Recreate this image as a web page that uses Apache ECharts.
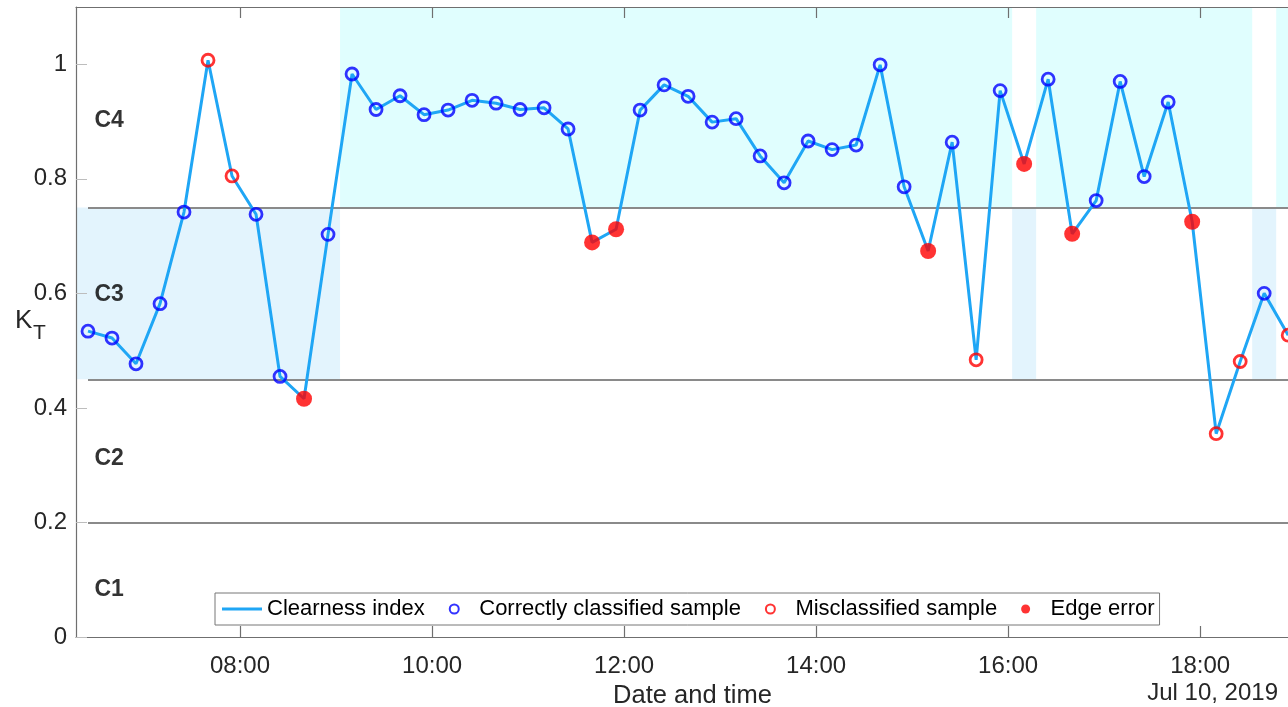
<!DOCTYPE html>
<html><head><meta charset="utf-8">
<script src="https://cdn.jsdelivr.net/npm/echarts@6/dist/echarts.min.js"></script>
<style>html,body{margin:0;padding:0;background:#fff}#c{width:1288px;height:707px}</style>
</head><body><div id="c"></div>
<script>
// ---- data ----
const sampleTimes = ['06:25','06:40','06:55','07:10','07:25','07:40','07:55','08:10','08:25','08:40','08:55',
  '09:10','09:25','09:40','09:55','10:10','10:25','10:40','10:55','11:10','11:25','11:40','11:55',
  '12:10','12:25','12:40','12:55','13:10','13:25','13:40','13:55','14:10','14:25','14:40','14:55',
  '15:10','15:25','15:40','15:55','16:10','16:25','16:40','16:55','17:10','17:25','17:40','17:55',
  '18:10','18:25','18:40','18:55'];
const clearnessIndex = [0.534,0.522,0.477,0.582,0.742,1.007,0.805,0.738,0.455,0.416,0.703,
  0.983,0.921,0.945,0.912,0.920,0.937,0.932,0.921,0.924,0.887,0.689,0.712,
  0.920,0.964,0.944,0.899,0.905,0.840,0.793,0.866,0.851,0.859,0.999,0.786,
  0.674,0.864,0.484,0.954,0.826,0.974,0.704,0.762,0.970,0.804,0.934,0.725,
  0.355,0.481,0.600,0.527];
const sampleStatus = ['ok','ok','ok','ok','ok','mis','mis','ok','ok','edge','ok',
  'ok','ok','ok','ok','ok','ok','ok','ok','ok','ok','edge','edge',
  'ok','ok','ok','ok','ok','ok','ok','ok','ok','ok','ok','ok',
  'edge','ok','mis','ok','edge','ok','edge','ok','ok','ok','ok','edge',
  'mis','mis','ok','mis'];
// predicted class shading windows
const regionStart = ['06:17:30','09:02:30','16:02:30','16:17:30','18:32:30','18:47:30'];
const regionEnd   = ['09:02:30','16:02:30','16:17:30','18:32:30','18:47:30','19:08:00'];
const regionClass = ['C3','C4','C3','C4','C3','C4'];
const classNames = ['C1','C2','C3','C4'];
const classLower = [0, 0.2, 0.45, 0.75];
const classUpper = [0.2, 0.45, 0.75, 1.1];
const classLabelY = [0.083, 0.311, 0.597, 0.902];
const classLabelTime = '06:29';
const classBoundaries = [0.2, 0.45, 0.75];
const xTickLabels = ['08:00','10:00','12:00','14:00','16:00','18:00'];
const yTickValues = [0, 0.2, 0.4, 0.6, 0.8, 1];
const yTickLabels = ['0','0.2','0.4','0.6','0.8','1'];
const axisStart = '06:17:30', axisEnd = '19:08:00';
const dateLabel = 'Jul 10, 2019';

// ---- helpers ----
function toMin(s){ const p = s.split(':').map(Number); return p[0]*60 + p[1] + (p[2]||0)/60; }
function fmt(m){ const h = Math.floor(m/60), mm = Math.round(m - h*60); return String(h).padStart(2,'0')+':'+String(mm).padStart(2,'0'); }
const xMin = toMin(axisStart), xMax = toMin(axisEnd);
const xTicks = xTickLabels.map(toMin);
const pts = sampleTimes.map((t,i)=>[toMin(t), clearnessIndex[i]]);
const pick = st => pts.filter((p,i)=>sampleStatus[i]===st);

const FONT = 'Liberation Sans, Arial, sans-serif';
const AX = '#6f6f6f', TXT = '#262626';
const shade = {C3:'#e3f4fd', C4:'#e0fefe'};
const LINEC = '#1fa6f5';

const areas = regionStart.map((s,i)=>{
  const c = classNames.indexOf(regionClass[i]);
  return [{xAxis: toMin(s), yAxis: classLower[c], itemStyle:{color: shade[regionClass[i]]}},
          {xAxis: toMin(regionEnd[i]), yAxis: classUpper[c]}];
});
const lines = classBoundaries.map(v=>[{coord:[toMin(sampleTimes[0]), v]},{coord:[xMax, v]}]);

const chart = echarts.init(document.getElementById('c'), null, {renderer:'canvas'});
chart.setOption({
  animation:false,
  backgroundColor:'#fff',
  textStyle:{fontFamily:FONT},
  grid:{left:76, top:7, width:1233, height:630, containLabel:false, outerBoundsMode:'none'},
  xAxis:[{
    type:'value', min:xMin, max:xMax, position:'bottom',
    axisLine:{lineStyle:{color:AX, width:1.2}},
    axisTick:{inside:true, length:11, customValues:xTicks, lineStyle:{color:AX, width:1.2}},
    axisLabel:{customValues:xTicks, formatter:v=>fmt(v), fontSize:24, color:TXT, margin:17, fontFamily:FONT},
    splitLine:{show:false},
    name:'Date and time', nameLocation:'middle', nameGap:44,
    nameTextStyle:{fontSize:25.5, color:TXT, fontFamily:FONT}
  },{
    type:'value', min:xMin, max:xMax, position:'top',
    axisLine:{lineStyle:{color:AX, width:1.2}},
    axisTick:{inside:true, length:11, customValues:xTicks, lineStyle:{color:AX, width:1.2}},
    axisLabel:{show:false}, splitLine:{show:false}
  }],
  yAxis:{
    type:'value', min:0, max:1.1,
    axisLine:{show:true, lineStyle:{color:AX, width:1.2}},
    axisTick:{show:true, inside:true, length:11, customValues:yTickValues, lineStyle:{color:'#bdbdbd', width:1}},
    axisLabel:{customValues:yTickValues, formatter:v=>yTickLabels[yTickValues.indexOf(v)] ?? String(v), fontSize:24, color:TXT, margin:9, fontFamily:FONT},
    splitLine:{show:false}
  },
  legend:{
    left:215, top:593, orient:'horizontal',
    padding:[5,5,5,7], itemGap:24, itemWidth:40, itemHeight:9,
    backgroundColor:'#fff', borderColor:'#777', borderWidth:1, borderRadius:0,
    textStyle:{fontSize:22, color:'#000', fontFamily:FONT},
    data:[
      {name:'Clearness index', icon:'path://M0,0H40V3H0Z', itemStyle:{color:LINEC, borderWidth:0}},
      {name:'Correctly classified sample', icon:'circle', itemStyle:{color:'#fff', borderColor:'#0000ff', borderWidth:2}},
      {name:'Misclassified sample', icon:'circle', itemStyle:{color:'#fff', borderColor:'#ff0000', borderWidth:2}},
      {name:'Edge error', icon:'circle', itemStyle:{color:'#ff0000', borderWidth:0}}
    ]
  },
  series:[
    {type:'line', name:'bands', data:[], z:0, silent:true,
      markArea:{silent:true, z:0, data:areas, label:{show:false}},
      markLine:{silent:true, z:1, symbol:['none','none'], label:{show:false},
        lineStyle:{color:'#8a8a8a', width:1.8, type:'solid'}, data:lines}
    },
    {type:'line', name:'Clearness index', data:pts, symbol:'none', z:2, clip:true,
      lineStyle:{color:LINEC, width:3}, itemStyle:{color:LINEC}},
    {type:'scatter', name:'Correctly classified sample', data:pick('ok'), symbol:'circle', symbolSize:12, z:3,
      itemStyle:{color:'rgba(0,0,0,0)', borderColor:'#0000ff', borderWidth:2.8}},
    {type:'scatter', name:'Misclassified sample', data:pick('mis'), symbol:'circle', symbolSize:12, z:3,
      itemStyle:{color:'rgba(0,0,0,0)', borderColor:'#ff0000', borderWidth:2.8}},
    {type:'scatter', name:'Edge error', data:pick('edge'), symbol:'circle', symbolSize:16, z:3,
      itemStyle:{color:'#ff0000'}},
    {type:'scatter', name:'classLabels', silent:true, z:4, symbolSize:1,
      itemStyle:{color:'rgba(0,0,0,0)'},
      data:classNames.map((n,i)=>({value:[toMin(classLabelTime), classLabelY[i]], name:n})),
      label:{show:true, position:'inside', align:'left', formatter:p=>p.name,
        fontSize:23, fontWeight:'bold', color:'#000', fontFamily:FONT}}
  ],
  graphic:[
    {type:'text', left:15, top:308, style:{text:'K', fontSize:26, fill:TXT, fontFamily:FONT}},
    {type:'text', left:33, top:323, style:{text:'T', fontSize:21, fill:TXT, fontFamily:FONT}},
    {type:'text', right:10, top:681, style:{text:dateLabel, fontSize:24, fill:TXT, fontFamily:FONT}}
  ]
});
</script></body></html>
